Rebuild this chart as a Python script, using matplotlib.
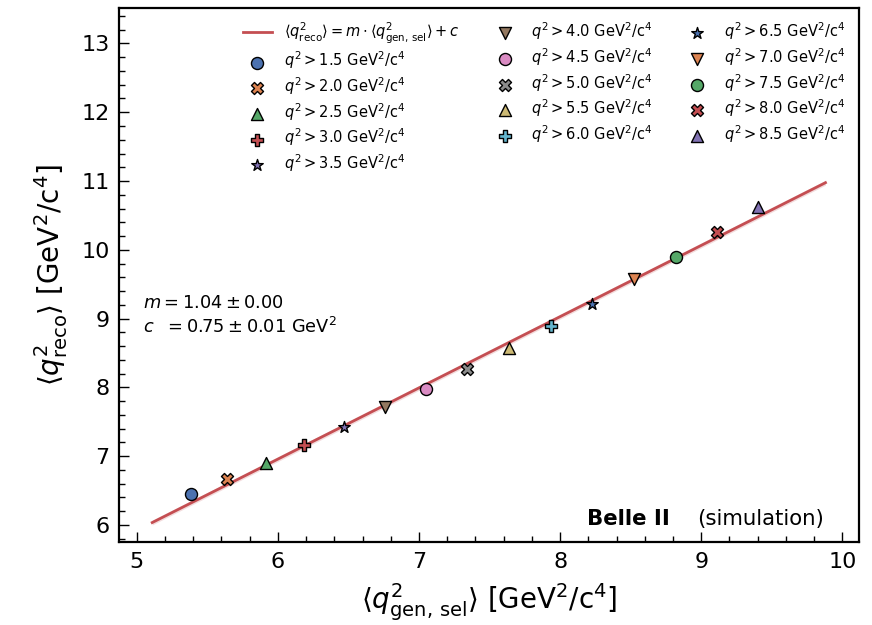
import numpy as np
import matplotlib
matplotlib.use("Agg")
import matplotlib.pyplot as plt
from matplotlib.ticker import AutoMinorLocator
import seaborn as sns

# q2 cuts and the mean values
q2_cuts = [1.5, 2.0, 2.5, 3.0, 3.5, 4.0, 4.5, 5.0, 5.5, 6.0, 6.5, 7.0, 7.5, 8.0, 8.5]
q2_gen_sel = [5.385, 5.642, 5.916, 6.187, 6.470, 6.760, 7.050, 7.340, 7.638, 7.933,
              8.225, 8.522, 8.820, 9.115, 9.405]
q2_reco = [6.446, 6.665, 6.902, 7.159, 7.425, 7.716, 7.973, 8.264, 8.574, 8.894,
           9.214, 9.573, 9.897, 10.256, 10.624]

# fit line
fit_m = 1.036
fit_c = 0.74
fit_range = [5.11, 9.88]
fit_band = 0.035

markers = ['o', 'X', '^', 'P', '*', 'v']
colors = sns.color_palette('deep')

fig, ax = plt.subplots(figsize=(8.72, 6.25), dpi=100)
fig.subplots_adjust(left=0.137, right=0.985, top=0.988, bottom=0.133)

xs = np.linspace(fit_range[0], fit_range[1], 200)
ys = fit_m * xs + fit_c
ax.fill_between(xs, ys - fit_band, ys + fit_band, color=colors[3], alpha=0.2, lw=0)
ax.plot(xs, ys, color=colors[3], lw=2,
        label=r'$\langle q^2_{\mathrm{reco}} \rangle = m \cdot \langle q^2_{\mathrm{gen,\,sel}} \rangle + c$')

for i in range(len(q2_cuts)):
    ax.scatter(q2_gen_sel[i], q2_reco[i], marker=markers[i % 6], color=colors[i % 10],
               s=75, edgecolor='black', linewidth=1, zorder=3,
               label=r'$q^2 > %.1f$ GeV$^2$/c$^4$' % q2_cuts[i])

ax.set_xlim(4.878, 10.117)
ax.set_ylim(5.753, 13.523)
ax.xaxis.set_minor_locator(AutoMinorLocator(5))
ax.yaxis.set_minor_locator(AutoMinorLocator(5))
ax.tick_params(which='both', direction='in', labelsize=16)
ax.tick_params(which='major', length=7, width=1, pad=7)
ax.tick_params(which='minor', length=4, width=1)
for s in ax.spines.values():
    s.set_linewidth(1.6)

ax.set_xlabel(r'$\langle q^2_{\mathrm{gen,\,sel}} \rangle$ [GeV$^2$/c$^4$]', fontsize=20, labelpad=7)
ax.set_ylabel(r'$\langle q^2_{\mathrm{reco}} \rangle$ [GeV$^2$/c$^4$]', fontsize=20, labelpad=8)

ax.legend(ncol=3, frameon=False, fontsize=10.5, loc='upper left',
          bbox_to_anchor=(0.149, 1.0), columnspacing=2.1, labelspacing=0.27,
          handletextpad=0.8)

ax.text(0.032, 0.447, r'$m = 1.04 \pm 0.00$', transform=ax.transAxes, fontsize=12.8, va='center')
ax.text(0.032, 0.402, r'$c\ \ = 0.75 \pm 0.01$ GeV$^2$', transform=ax.transAxes, fontsize=12.8, va='center')

ax.text(0.632, 0.043, 'Belle II', transform=ax.transAxes, fontsize=15.3, fontweight='bold', va='center')
ax.text(0.781, 0.043, '(simulation)', transform=ax.transAxes, fontsize=15.3, va='center')

fig.savefig('out.png')
